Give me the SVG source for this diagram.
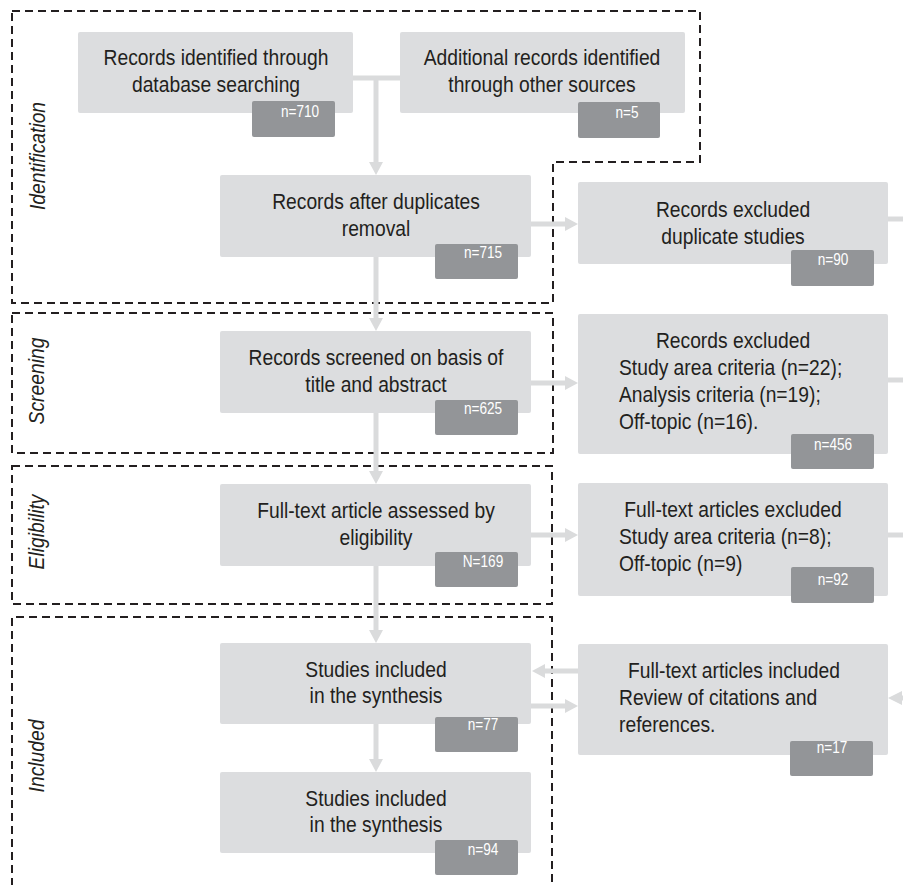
<svg xmlns="http://www.w3.org/2000/svg" width="903" height="885" viewBox="0 0 903 885">
<defs>
<style>
.frame{fill:none;stroke:#231f20;stroke-width:2;stroke-dasharray:8 5}
.box{fill:#dcdddf}
.badge{fill:#939598}
.t{font-family:"Liberation Sans",Arial,sans-serif;font-size:22px;fill:#231f20}
.c{text-anchor:middle}
.n{font-family:"Liberation Sans",Arial,sans-serif;font-size:16px;fill:#ffffff;text-anchor:middle}
.stage{font-family:"Liberation Sans",Arial,sans-serif;font-size:22px;font-style:italic;fill:#231f20;text-anchor:middle}
.ln{fill:none;stroke:#dadbdc;stroke-width:5}
.ah{fill:#dadbdc}
</style>
</defs>
<rect width="903" height="885" fill="#ffffff"/>

<g id="stages">
<path class="frame" d="M12,11 H700 V162 H553 V303 H12 Z"/>
<rect class="frame" x="12" y="313" width="541" height="140"/>
<rect class="frame" x="12" y="466" width="540" height="138"/>
<path class="frame" d="M12,886 V617 H552 V886"/>
<text class="stage" transform="translate(45,156) rotate(-90) scale(0.876,1)">Identification</text>
<text class="stage" transform="translate(44,381) rotate(-90) scale(0.876,1)">Screening</text>
<text class="stage" transform="translate(44,532) rotate(-90) scale(0.876,1)">Eligibility</text>
<text class="stage" transform="translate(44,756) rotate(-90) scale(0.876,1)">Included</text>
</g>

<g id="connectors">
<path class="ln" d="M353,78 H400"/>
<path class="ln" d="M376,78 V163"/>
<polygon class="ah" points="369,162 383,162 376,175"/>
<path class="ln" d="M376,257 V319"/>
<polygon class="ah" points="369,318 383,318 376,331"/>
<path class="ln" d="M376,413 V472"/>
<polygon class="ah" points="369,471 383,471 376,484"/>
<path class="ln" d="M376,566 V631"/>
<polygon class="ah" points="369,630 383,630 376,643"/>
<path class="ln" d="M376,724 V760"/>
<polygon class="ah" points="369,759 383,759 376,772"/>
<path class="ln" d="M531,224 H566"/>
<polygon class="ah" points="565,217 565,231 578,224"/>
<path class="ln" d="M531,383 H566"/>
<polygon class="ah" points="565,376 565,390 578,383"/>
<path class="ln" d="M531,535 H566"/>
<polygon class="ah" points="565,528 565,542 578,535"/>
<path class="ln" d="M545,671 H578"/>
<polygon class="ah" points="545,664 545,678 532,671"/>
<path class="ln" d="M531,706 H566"/>
<polygon class="ah" points="565,699 565,713 578,706"/>
<path class="ln" d="M888,219 H903"/>
<path class="ln" d="M888,380 H903"/>
<path class="ln" d="M888,535 H903"/>
<path class="ln" d="M900,698 H906"/>
<polygon class="ah" points="902,691 902,705 888,698"/>
</g>

<g id="db">
<rect class="box" x="78" y="32" width="275" height="81" rx="2"/>
<text class="t c" transform="translate(216,65) scale(0.876,1)">Records identified through</text>
<text class="t c" transform="translate(216,92) scale(0.876,1)">database searching</text>
<rect class="badge" x="252" y="101" width="83" height="36" rx="2"/>
<text class="n" transform="translate(300,117) scale(0.85,1)">n=710</text>
</g>

<g id="other">
<rect class="box" x="400" y="32" width="285" height="81" rx="2"/>
<text class="t c" transform="translate(542,65) scale(0.876,1)">Additional records identified</text>
<text class="t c" transform="translate(542,92) scale(0.876,1)">through other sources</text>
<rect class="badge" x="578" y="102" width="82" height="36" rx="2"/>
<text class="n" transform="translate(627,118) scale(0.85,1)">n=5</text>
</g>

<g id="dedup">
<rect class="box" x="220" y="175" width="311" height="82" rx="2"/>
<text class="t c" transform="translate(376,209) scale(0.876,1)">Records after duplicates</text>
<text class="t c" transform="translate(376,236) scale(0.876,1)">removal</text>
<rect class="badge" x="435" y="244" width="83" height="35" rx="2"/>
<text class="n" transform="translate(483,258) scale(0.85,1)">n=715</text>
</g>

<g id="excl-dup">
<rect class="box" x="578" y="182" width="310" height="82" rx="2"/>
<text class="t c" transform="translate(733,217) scale(0.876,1)">Records excluded</text>
<text class="t c" transform="translate(733,244) scale(0.876,1)">duplicate studies</text>
<rect class="badge" x="791" y="250" width="83" height="36" rx="2"/>
<text class="n" transform="translate(833,265) scale(0.85,1)">n=90</text>
</g>

<g id="screened">
<rect class="box" x="220" y="331" width="311" height="82" rx="2"/>
<text class="t c" transform="translate(376,365) scale(0.876,1)">Records screened on basis of</text>
<text class="t c" transform="translate(376,392) scale(0.876,1)">title and abstract</text>
<rect class="badge" x="435" y="400" width="83" height="35" rx="2"/>
<text class="n" transform="translate(483,414) scale(0.85,1)">n=625</text>
</g>

<g id="excl-screen">
<rect class="box" x="578" y="314" width="310" height="140" rx="2"/>
<text class="t c" transform="translate(733,348) scale(0.876,1)">Records excluded</text>
<text class="t" transform="translate(619,375) scale(0.876,1)">Study area criteria (n=22);</text>
<text class="t" transform="translate(619,402) scale(0.876,1)">Analysis criteria (n=19);</text>
<text class="t" transform="translate(619,429) scale(0.876,1)">Off-topic (n=16).</text>
<rect class="badge" x="791" y="434" width="83" height="35" rx="2"/>
<text class="n" transform="translate(833,450) scale(0.85,1)">n=456</text>
</g>

<g id="eligible">
<rect class="box" x="220" y="484" width="311" height="82" rx="2"/>
<text class="t c" transform="translate(376,518) scale(0.876,1)">Full-text article assessed by</text>
<text class="t c" transform="translate(376,545) scale(0.876,1)">eligibility</text>
<rect class="badge" x="435" y="552" width="83" height="35" rx="2"/>
<text class="n" transform="translate(483,567) scale(0.85,1)">N=169</text>
</g>

<g id="excl-full">
<rect class="box" x="578" y="483" width="310" height="113" rx="2"/>
<text class="t c" transform="translate(733,517) scale(0.876,1)">Full-text articles excluded</text>
<text class="t" transform="translate(619,544) scale(0.876,1)">Study area criteria (n=8);</text>
<text class="t" transform="translate(619,571) scale(0.876,1)">Off-topic (n=9)</text>
<rect class="badge" x="791" y="567" width="83" height="36" rx="2"/>
<text class="n" transform="translate(833,585) scale(0.85,1)">n=92</text>
</g>

<g id="included1">
<rect class="box" x="220" y="643" width="311" height="81" rx="2"/>
<text class="t c" transform="translate(376,677) scale(0.876,1)">Studies included</text>
<text class="t c" transform="translate(376,703) scale(0.876,1)">in the synthesis</text>
<rect class="badge" x="435" y="717" width="83" height="35" rx="2"/>
<text class="n" transform="translate(483,730) scale(0.85,1)">n=77</text>
</g>

<g id="included2">
<rect class="box" x="220" y="772" width="311" height="81" rx="2"/>
<text class="t c" transform="translate(376,806) scale(0.876,1)">Studies included</text>
<text class="t c" transform="translate(376,832) scale(0.876,1)">in the synthesis</text>
<rect class="badge" x="435" y="840" width="83" height="35" rx="2"/>
<text class="n" transform="translate(483,855) scale(0.85,1)">n=94</text>
</g>

<g id="citations">
<rect class="box" x="578" y="644" width="310" height="111" rx="2"/>
<text class="t" transform="translate(628,678) scale(0.876,1)">Full-text articles included</text>
<text class="t" transform="translate(619,705) scale(0.876,1)">Review of citations and</text>
<text class="t" transform="translate(619,732) scale(0.876,1)">references.</text>
<rect class="badge" x="790" y="741" width="83" height="35" rx="2"/>
<text class="n" transform="translate(832,753) scale(0.85,1)">n=17</text>
</g>
</svg>
